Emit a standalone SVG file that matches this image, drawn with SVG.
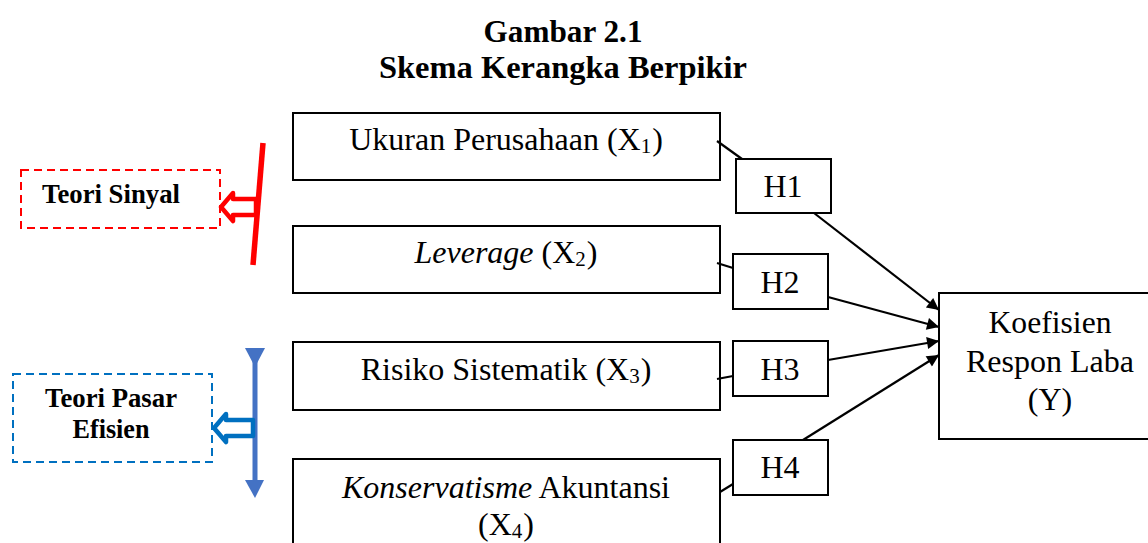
<svg xmlns="http://www.w3.org/2000/svg" width="1148" height="543" viewBox="0 0 1148 543" font-family="'Liberation Serif', 'Times New Roman', 'DejaVu Serif', serif">
<style>
.box{fill:#fff;stroke:#000;stroke-width:2}
text{font-family:'Liberation Serif','Times New Roman','DejaVu Serif',serif}
.t{font-size:32px;fill:#000;text-anchor:middle}
.b{font-weight:bold}
.i{font-style:italic}
.sub{font-size:21px}
.s{font-size:27px}
.conn{stroke:#000;stroke-width:2.2;fill:none}
.arr{marker-end:url(#ah)}
</style>
<defs>
<marker id="ah" viewBox="0 0 10 10" refX="10" refY="5" markerWidth="15" markerHeight="12" markerUnits="userSpaceOnUse" orient="auto">
<path d="M0,0 L10,5 L0,10 z" fill="#000"/>
</marker>
</defs>
<rect width="1148" height="543" fill="#fff"/>

<g id="title">
<text class="t b" x="563" y="42" textLength="159" lengthAdjust="spacingAndGlyphs">Gambar 2.1</text>
<text class="t b" x="563" y="78" textLength="368" lengthAdjust="spacingAndGlyphs">Skema Kerangka Berpikir</text>
</g>

<g id="teori-sinyal">
<rect x="21" y="170" width="199" height="58" fill="none" stroke="#FF0000" stroke-width="2" stroke-dasharray="8,5"/>
<text class="t b s" x="111" y="203" textLength="138" lengthAdjust="spacingAndGlyphs">Teori Sinyal</text>
<line x1="263" y1="143" x2="253" y2="265" stroke="#FF0000" stroke-width="5.5"/>
<polygon points="256,199 233,199 233,193 221,207 233,221 233,215 256,215" fill="#fff" stroke="#FF0000" stroke-width="4.5" stroke-linejoin="round"/>
</g>

<g id="teori-pasar">
<rect x="13" y="374" width="199" height="88" fill="none" stroke="#0070C0" stroke-width="2" stroke-dasharray="8,5"/>
<text class="t b s" x="111" y="407" textLength="132" lengthAdjust="spacingAndGlyphs">Teori Pasar</text>
<text class="t b s" x="111" y="438" textLength="77" lengthAdjust="spacingAndGlyphs">Efisien</text>
<line x1="255" y1="352" x2="255" y2="486" stroke="#4472C4" stroke-width="5"/>
<polygon points="245,348 265,348 255,367" fill="#4472C4"/>
<polygon points="245,480 264,480 255,498" fill="#4472C4"/>
<polygon points="253,420 226,420 226,414 214,428 226,442 226,436 253,436" fill="#fff" stroke="#0070C0" stroke-width="4.5" stroke-linejoin="round"/>
</g>

<g id="x1">
<rect class="box" x="293" y="113" width="427" height="67"/>
<text class="t" x="506" y="150">Ukuran Perusahaan (X<tspan class="sub" baseline-shift="-3">1</tspan><tspan dx="1">)</tspan></text>
</g>
<g id="x2">
<rect class="box" x="293" y="226" width="427" height="67"/>
<text class="t" x="506" y="263"><tspan class="i">Leverage</tspan> (X<tspan class="sub" baseline-shift="-3">2</tspan><tspan dx="1">)</tspan></text>
</g>
<g id="x3">
<rect class="box" x="293" y="342" width="427" height="68"/>
<text class="t" x="506" y="380">Risiko Sistematik (X<tspan class="sub" baseline-shift="-3">3</tspan><tspan dx="1">)</tspan></text>
</g>
<g id="x4">
<rect class="box" x="293" y="459" width="427" height="100"/>
<text class="t" x="506" y="498" textLength="328" lengthAdjust="spacingAndGlyphs"><tspan class="i">Konservatisme</tspan> Akuntansi</text>
<text class="t" x="506" y="535">(X<tspan class="sub" baseline-shift="-3">4</tspan><tspan dx="1">)</tspan></text>
</g>

<g id="h1">
<rect class="box" x="736" y="159" width="95" height="54"/>
<text class="t" x="783" y="197">H1</text>
</g>
<g id="h2">
<rect class="box" x="733" y="254" width="95" height="55"/>
<text class="t" x="780" y="293">H2</text>
</g>
<g id="h3">
<rect class="box" x="733" y="341" width="95" height="55"/>
<text class="t" x="780" y="380">H3</text>
</g>
<g id="h4">
<rect class="box" x="733" y="440" width="95" height="55"/>
<text class="t" x="780" y="478">H4</text>
</g>

<g id="y">
<rect class="box" x="939" y="293" width="215" height="146"/>
<text class="t" x="1050" y="333" textLength="123" lengthAdjust="spacingAndGlyphs">Koefisien</text>
<text class="t" x="1050" y="372" textLength="168" lengthAdjust="spacingAndGlyphs">Respon Laba</text>
<text class="t" x="1050" y="410">(Y)</text>
</g>

<g id="connectors">
<line class="conn" x1="717" y1="141" x2="742" y2="159"/>
<line class="conn" x1="717" y1="263" x2="733" y2="268"/>
<line class="conn" x1="717" y1="379" x2="733" y2="376"/>
<line class="conn" x1="720" y1="492" x2="733" y2="484"/>
<line class="conn arr" x1="814" y1="213" x2="939" y2="310"/>
<line class="conn arr" x1="828" y1="297" x2="939" y2="327"/>
<line class="conn arr" x1="828" y1="360" x2="939" y2="341"/>
<line class="conn arr" x1="803" y1="440" x2="939" y2="355"/>
</g>
</svg>
